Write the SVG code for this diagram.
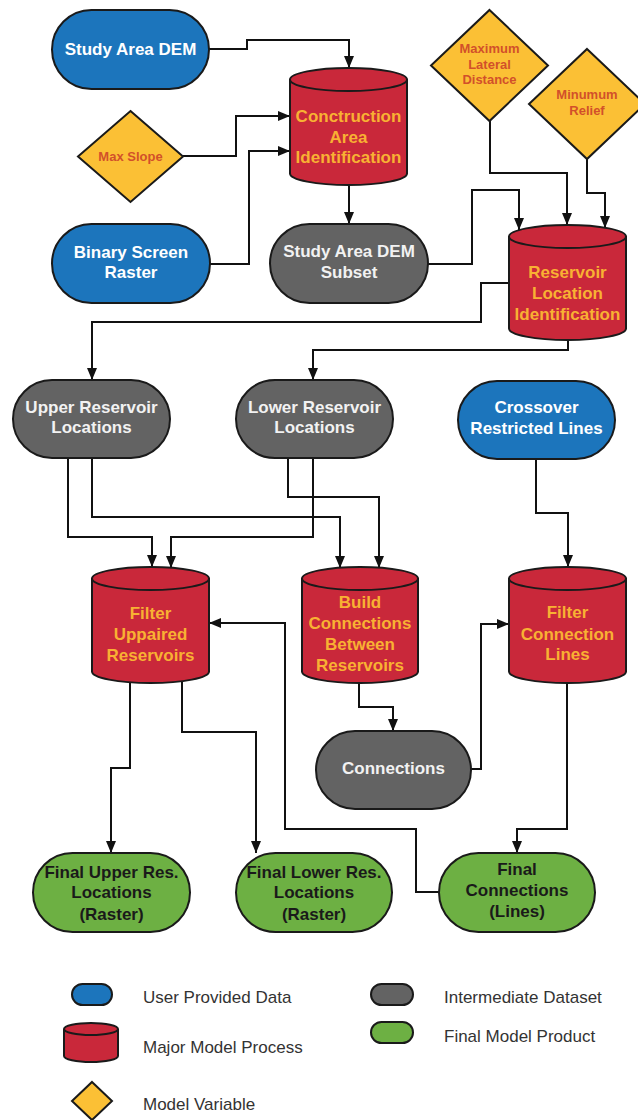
<svg xmlns="http://www.w3.org/2000/svg" width="638" height="1120" viewBox="0 0 638 1120">
  <defs>
    <marker id="arrow" markerUnits="userSpaceOnUse" markerWidth="12" markerHeight="10" refX="12" refY="5" orient="auto">
      <path d="M0,0 L12,5 L0,10 Z" fill="#111"/>
    </marker>
    <style>
      .blue { fill: #1C75BC; stroke: #1a1a1a; stroke-width: 2; }
      .grey { fill: #636363; stroke: #1a1a1a; stroke-width: 2; }
      .green { fill: #6DB043; stroke: #1a1a1a; stroke-width: 2; }
      .red { fill: #C9283A; stroke: #1a1a1a; stroke-width: 2; }
      .edge { fill: none; stroke: #1a1a1a; stroke-width: 2; }
      .yellow { fill: #FBC035; stroke: #1a1a1a; stroke-width: 2; }
      .wire { fill: none; stroke: #111; stroke-width: 2; marker-end: url(#arrow); }
      .plain { fill: none; stroke: #111; stroke-width: 2; }
      text { font-family: "Liberation Sans", Arial, sans-serif; text-anchor: middle; }
      .tw { fill: #ffffff; font-weight: bold; font-size: 17px; }
      .tg { fill: #f2f2f2; font-weight: bold; font-size: 17px; }
      .tr { fill: #F8B133; font-weight: bold; font-size: 17px; }
      .ty { fill: #D2502A; font-weight: bold; font-size: 13px; }
      .tf { fill: #1a1a1a; font-weight: bold; font-size: 17px; }
      .tl { fill: #333333; font-size: 17px; text-anchor: start; }
    </style>
  </defs>

  <!-- connectors -->
  <g id="connectors">
    <path class="wire" d="M209,49 H247 V40 H349 V68"/>
    <path class="wire" d="M183,156 H236 V116 H290"/>
    <path class="wire" d="M210,264 H249 V151 H290"/>
    <path class="wire" d="M349,185 V224"/>
    <path class="wire" d="M428,264 H472 V190 H519 V230"/>
    <path class="wire" d="M490,121 V173 H567 V225"/>
    <path class="wire" d="M587,159 V193 H605 V228"/>
    <path class="wire" d="M509,283 H481 V322 H92 V380"/>
    <path class="wire" d="M568,340 V350 H313 V380"/>
    <path class="wire" d="M68,458 V537 H152 V567"/>
    <path class="wire" d="M92,458 V517 H340 V568"/>
    <path class="wire" d="M288,458 V497 H379 V568"/>
    <path class="wire" d="M313,458 V537 H171 V568"/>
    <path class="wire" d="M536,459 V513 H568 V567"/>
    <path class="wire" d="M359,683 V707 H393 V731"/>
    <path class="wire" d="M471,769 H481 V624 H509"/>
    <path class="wire" d="M130,682 V768 H111 V853"/>
    <path class="wire" d="M182,679 V732 H256 V853"/>
    <path class="wire" d="M567,683 V829 H517 V853"/>
    <path class="wire" d="M439,892 H416 V829 H285 V623 H209"/>
  </g>

  <!-- user provided data -->
  <g id="study-area-dem">
    <rect class="blue" x="52" y="10" width="157" height="79" rx="39.5"/>
    <text class="tw" x="130.5" y="55">Study Area DEM</text>
  </g>
  <g id="binary-screen-raster">
    <rect class="blue" x="52" y="224" width="158" height="79" rx="39.5"/>
    <text class="tw" x="131" y="258">Binary Screen</text>
    <text class="tw" x="131" y="278">Raster</text>
  </g>
  <g id="crossover-restricted-lines">
    <rect class="blue" x="458" y="381" width="157" height="78" rx="39"/>
    <text class="tw" x="536.5" y="413">Crossover</text>
    <text class="tw" x="536.5" y="434">Restricted Lines</text>
  </g>

  <!-- model variables -->
  <g id="max-slope">
    <path class="yellow" d="M130.5,111 L183,156.5 L130.5,202 L78,156.5 Z"/>
    <text class="ty" x="130.5" y="161">Max Slope</text>
  </g>
  <g id="maximum-lateral-distance">
    <path class="yellow" d="M489.5,10 L548,65.5 L489.5,121 L431,65.5 Z"/>
    <text class="ty" x="489.5" y="53">Maximum</text>
    <text class="ty" x="489.5" y="69">Lateral</text>
    <text class="ty" x="489.5" y="84">Distance</text>
  </g>
  <g id="minumum-relief">
    <path class="yellow" d="M587,49 L645,104 L587,159 L529,104 Z"/>
    <text class="ty" x="587" y="99">Minumum</text>
    <text class="ty" x="587" y="115">Relief</text>
  </g>

  <!-- major model processes -->
  <g id="conctruction-area-identification">
    <path class="red" d="M290,79.5 A58.5,11.5 0 0 1 407,79.5 V173.5 A58.5,11.5 0 0 1 290,173.5 Z"/>
    <path class="edge" d="M290,79.5 A58.5,11.5 0 0 0 407,79.5"/>
    <text class="tr" x="348.5" y="122">Conctruction</text>
    <text class="tr" x="348.5" y="143">Area</text>
    <text class="tr" x="348.5" y="163">Identification</text>
  </g>
  <g id="reservoir-location-identification">
    <path class="red" d="M509,236.5 A58.5,11.5 0 0 1 626,236.5 V328.5 A58.5,11.5 0 0 1 509,328.5 Z"/>
    <path class="edge" d="M509,236.5 A58.5,11.5 0 0 0 626,236.5"/>
    <text class="tr" x="567.5" y="278">Reservoir</text>
    <text class="tr" x="567.5" y="299">Location</text>
    <text class="tr" x="567.5" y="320">Identification</text>
  </g>
  <g id="filter-uppaired-reservoirs">
    <path class="red" d="M92,578.5 A58.5,11.5 0 0 1 209,578.5 V671.5 A58.5,11.5 0 0 1 92,671.5 Z"/>
    <path class="edge" d="M92,578.5 A58.5,11.5 0 0 0 209,578.5"/>
    <text class="tr" x="150.5" y="619">Filter</text>
    <text class="tr" x="150.5" y="640">Uppaired</text>
    <text class="tr" x="150.5" y="661">Reservoirs</text>
  </g>
  <g id="build-connections-between-reservoirs">
    <path class="red" d="M302,578.5 A58,11.5 0 0 1 418,578.5 V671.5 A58,11.5 0 0 1 302,671.5 Z"/>
    <path class="edge" d="M302,578.5 A58,11.5 0 0 0 418,578.5"/>
    <text class="tr" x="360" y="608">Build</text>
    <text class="tr" x="360" y="629">Connections</text>
    <text class="tr" x="360" y="650">Between</text>
    <text class="tr" x="360" y="671">Reservoirs</text>
  </g>
  <g id="filter-connection-lines">
    <path class="red" d="M509,578.5 A58.5,11.5 0 0 1 626,578.5 V671.5 A58.5,11.5 0 0 1 509,671.5 Z"/>
    <path class="edge" d="M509,578.5 A58.5,11.5 0 0 0 626,578.5"/>
    <text class="tr" x="567.5" y="618">Filter</text>
    <text class="tr" x="567.5" y="640">Connection</text>
    <text class="tr" x="567.5" y="660">Lines</text>
  </g>

  <!-- intermediate datasets -->
  <g id="study-area-dem-subset">
    <rect class="grey" x="270" y="224" width="158" height="79" rx="39.5"/>
    <text class="tg" x="349" y="257">Study Area DEM</text>
    <text class="tg" x="349" y="278">Subset</text>
  </g>
  <g id="upper-reservoir-locations">
    <rect class="grey" x="13" y="380" width="157" height="78" rx="39"/>
    <text class="tg" x="91.5" y="413">Upper Reservoir</text>
    <text class="tg" x="91.5" y="433">Locations</text>
  </g>
  <g id="lower-reservoir-locations">
    <rect class="grey" x="236" y="380" width="157" height="78" rx="39"/>
    <text class="tg" x="314.5" y="413">Lower Reservoir</text>
    <text class="tg" x="314.5" y="433">Locations</text>
  </g>
  <g id="connections">
    <rect class="grey" x="316" y="731" width="155" height="78" rx="39"/>
    <text class="tg" x="393.5" y="774">Connections</text>
  </g>

  <!-- final model products -->
  <g id="final-upper-res-locations">
    <rect class="green" x="33" y="853" width="157" height="79" rx="39.5"/>
    <text class="tf" x="111.5" y="878">Final Upper Res.</text>
    <text class="tf" x="111.5" y="898">Locations</text>
    <text class="tf" x="111.5" y="920">(Raster)</text>
  </g>
  <g id="final-lower-res-locations">
    <rect class="green" x="236" y="853" width="156" height="79" rx="39.5"/>
    <text class="tf" x="314" y="878">Final Lower Res.</text>
    <text class="tf" x="314" y="898">Locations</text>
    <text class="tf" x="314" y="920">(Raster)</text>
  </g>
  <g id="final-connections-lines">
    <rect class="green" x="439" y="853" width="156" height="79" rx="39.5"/>
    <text class="tf" x="517" y="875">Final</text>
    <text class="tf" x="517" y="896">Connections</text>
    <text class="tf" x="517" y="917">(Lines)</text>
  </g>

  <!-- legend -->
  <g id="legend">
    <rect class="blue" x="72" y="984" width="40" height="21" rx="10.5"/>
    <text class="tl" x="143" y="1003">User Provided Data</text>
    <path class="red" d="M64,1029 A27,6 0 0 1 118,1029 V1056 A27,6 0 0 1 64,1056 Z"/>
    <path class="edge" d="M64,1029 A27,6 0 0 0 118,1029"/>
    <text class="tl" x="143" y="1053">Major Model Process</text>
    <path class="yellow" d="M92,1082 L112,1101 L92,1120 L72,1101 Z"/>
    <text class="tl" x="143" y="1110">Model Variable</text>
    <rect class="grey" x="371" y="984" width="42" height="21" rx="10.5"/>
    <text class="tl" x="444" y="1003">Intermediate Dataset</text>
    <rect class="green" x="371" y="1022" width="42" height="21" rx="10.5"/>
    <text class="tl" x="444" y="1042">Final Model Product</text>
  </g>
</svg>
